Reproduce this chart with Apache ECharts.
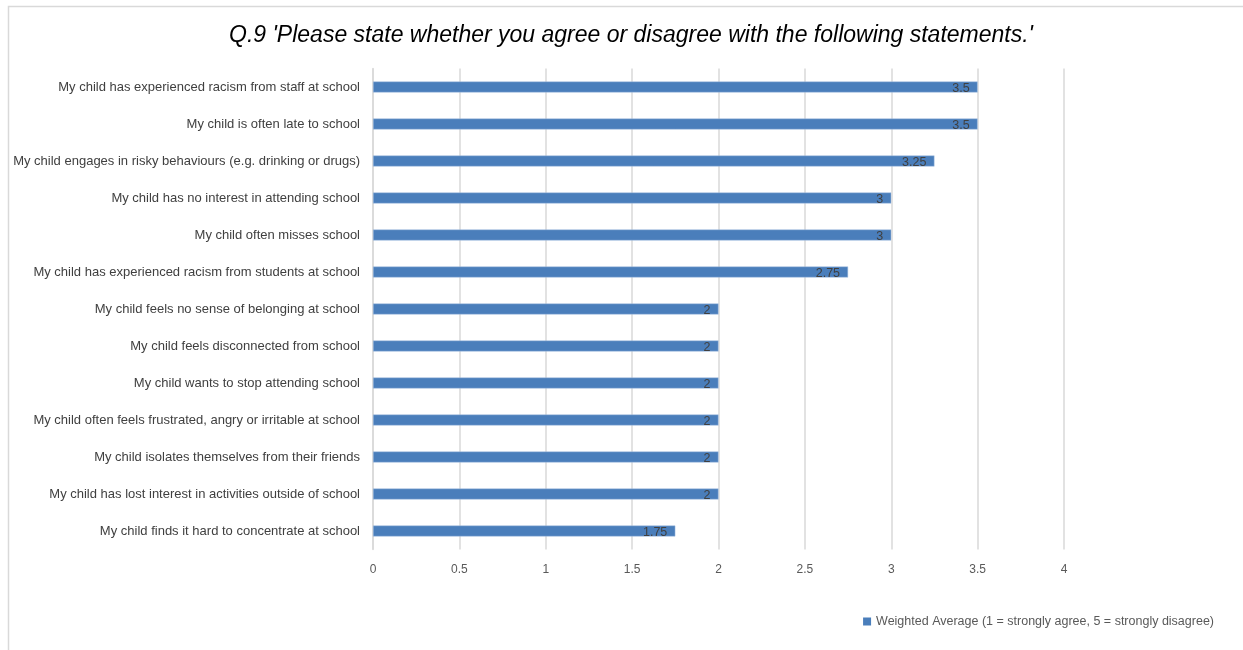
<!DOCTYPE html>
<html>
<head>
<meta charset="utf-8">
<script src="https://cdn.jsdelivr.net/npm/echarts@6/dist/echarts.min.js"></script>
<style>html,body{margin:0;padding:0;background:#fff;}#c{width:1243px;height:650px;}</style>
</head>
<body>
<div id="c"></div>
<script>
const categories = [
  "My child has experienced racism from staff at school",
  "My child is often late to school",
  "My child engages in risky behaviours (e.g. drinking or drugs)",
  "My child has no interest in attending school",
  "My child often misses school",
  "My child has experienced racism from students at school",
  "My child feels no sense of belonging at school",
  "My child feels disconnected from school",
  "My child wants to stop attending school",
  "My child often feels frustrated, angry or irritable at school",
  "My child isolates themselves from their friends",
  "My child has lost interest in activities outside of school",
  "My child finds it hard to concentrate at school"
];
const values = [3.5, 3.5, 3.25, 3, 3, 2.75, 2, 2, 2, 2, 2, 2, 1.75];
const seriesName = "Weighted Average (1 = strongly agree, 5 = strongly disagree)";
const titleText = "Q.9 'Please state whether you agree or disagree with the following statements.'";

const chart = echarts.init(document.getElementById('c'), null, {renderer: 'canvas'});
chart.setOption({
  backgroundColor: '#fff',
  animation: false,
  textStyle: {fontFamily: 'Liberation Sans'},
  graphic: [{
    type: 'rect', left: 6, top: 4, silent: true,
    shape: {x: 0, y: 0, width: 1300, height: 700},
    style: {fill: 'none', stroke: '#d9d9d9', lineWidth: 1.5}
  }],
  title: {
    text: titleText,
    left: 626, textAlign: 'center', top: 19,
    textStyle: {fontFamily: 'Liberation Sans', fontStyle: 'italic', fontWeight: 'normal', fontSize: 23, color: '#000'}
  },
  legend: {
    data: [seriesName],
    right: 24, top: 610,
    itemWidth: 8, itemHeight: 8, itemGap: 5,
    icon: 'rect',
    itemStyle: {borderWidth: 0},
    textStyle: {fontSize: 12.5, color: '#595959', fontFamily: 'Liberation Sans'}
  },
  grid: {left: 373, right: 179, top: 68.5, bottom: 100.5, containLabel: false},
  xAxis: {
    type: 'value', min: 0, max: 4, interval: 0.5,
    axisLine: {show: false}, axisTick: {show: false},
    axisLabel: {color: '#595959', fontSize: 12, margin: 14},
    splitLine: {lineStyle: {color: '#d9d9d9', width: 1.5}}
  },
  yAxis: {
    type: 'category', data: categories, inverse: true,
    axisLine: {show: true, lineStyle: {color: '#d9d9d9', width: 1.5}},
    axisTick: {show: false},
    axisLabel: {color: '#404040', fontSize: 13, margin: 13}
  },
  series: [{
    name: seriesName,
    type: 'bar',
    data: values,
    barWidth: 11,
    itemStyle: {color: '#4a7ebb', borderColor: '#a9c2e2', borderWidth: 0.5},
    label: {show: true, position: 'insideRight', distance: 8, color: '#404040', fontSize: 12.5, offset: [0, 2]}
  }]
});
</script>
</body>
</html>
